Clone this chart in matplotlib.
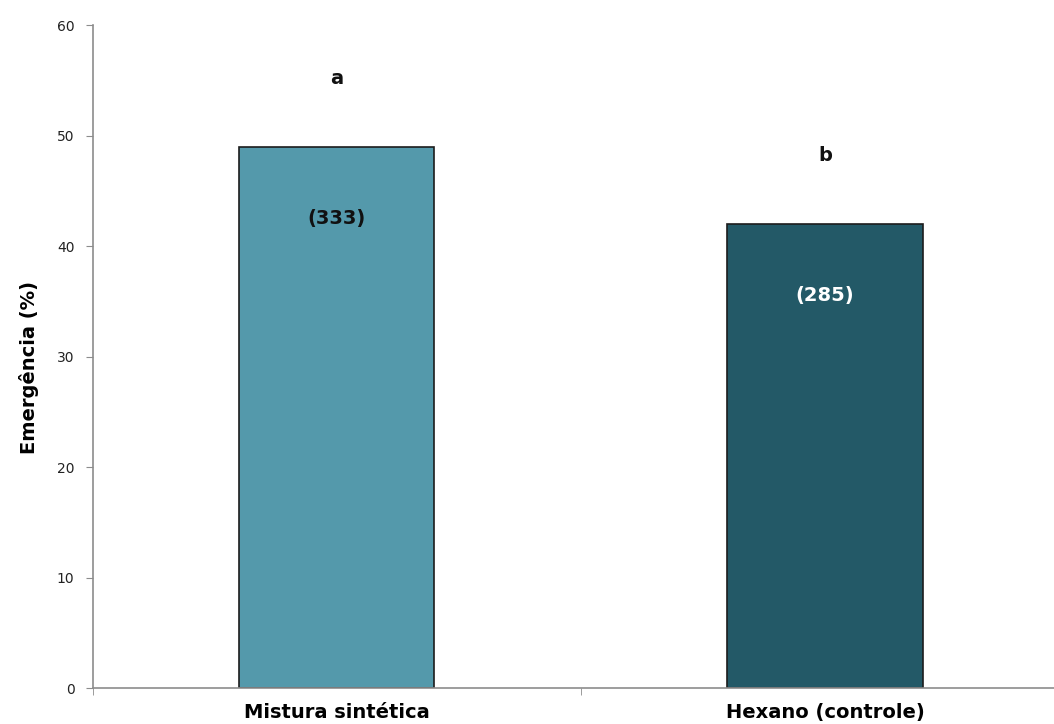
import matplotlib
matplotlib.use("Agg")
import matplotlib.pyplot as plt

categories = ["Mistura sintética", "Hexano (controle)"]
emergence = [49, 42]
counts = ["(333)", "(285)"]
letters = ["a", "b"]
bar_colors = ["#5499ab", "#235967"]
count_colors = ["#111111", "#ffffff"]

fig = plt.figure(figsize=(10.54, 7.24), dpi=100)
ax = fig.add_axes([0.0878, 0.0497, 0.9265, 0.9157])

x = list(range(len(categories)))
ax.bar(x, emergence, width=0.4, color=bar_colors, edgecolor="#1c1c1c", linewidth=1.2, zorder=2)

for xi, v, c, cc, l in zip(x, emergence, counts, count_colors, letters):
    ax.text(xi, v + 6.2, l, ha="center", va="center", fontsize=14, fontweight="bold", color="#111111")
    ax.text(xi, v - 6.5, c, ha="center", va="center", fontsize=14, fontweight="bold", color=cc)

ax.set_xlim(-0.5, 1.5)
ax.set_ylim(0, 60)
ax.set_yticks(range(0, 61, 10))
ax.set_xticks(x)
ax.set_xticklabels(categories, fontsize=14, fontweight="bold")
ax.set_xticks([-0.5, 0.5, 1.5], minor=True)
ax.tick_params(axis="x", which="major", length=0, pad=11)
ax.tick_params(axis="x", which="minor", length=5, direction="out", color="#8c8c8c")
ax.tick_params(axis="y", length=5, direction="out", color="#8c8c8c", labelsize=10, labelcolor="#222222", pad=8)
ax.set_ylabel("Emergência (%)", fontsize=14, fontweight="bold")
ax.yaxis.set_label_coords(-0.055, 0.484)

for s in ["top", "right"]:
    ax.spines[s].set_visible(False)
for s in ["left", "bottom"]:
    ax.spines[s].set_color("#8c8c8c")
    ax.spines[s].set_linewidth(1.2)

fig.savefig("out.png", dpi=100)
